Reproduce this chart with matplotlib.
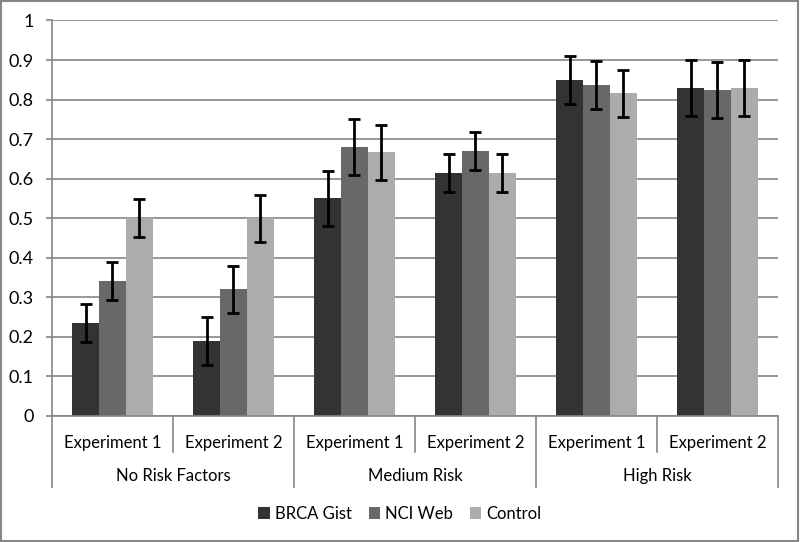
import numpy as np
import matplotlib.pyplot as plt
from matplotlib.patches import Rectangle
from matplotlib.lines import Line2D

plt.rcParams['font.family'] = ['Lato', 'DejaVu Sans']

groups = ["No Risk Factors", "Medium Risk", "High Risk"]
experiments = ["Experiment 1", "Experiment 2"]
series = ["BRCA Gist", "NCI Web", "Control"]
colors = ["#333333", "#686868", "#acacac"]

# one value per (group, experiment) in order
brca = [0.234, 0.190, 0.550, 0.614, 0.849, 0.829]
nci = [0.342, 0.320, 0.680, 0.669, 0.837, 0.824]
control = [0.500, 0.500, 0.667, 0.614, 0.816, 0.829]
brca_err = [0.048, 0.060, 0.070, 0.048, 0.061, 0.070]
nci_err = [0.048, 0.060, 0.071, 0.048, 0.060, 0.070]
control_err = [0.048, 0.060, 0.070, 0.048, 0.060, 0.070]

values = [brca, nci, control]
errors = [brca_err, nci_err, control_err]

fig = plt.figure(figsize=(8, 5.42), dpi=100)
ax = fig.add_axes([0.065, 0.2325, 0.9075, 0.7297])

x = np.arange(len(brca))
w = 0.223
for i, (vals, errs) in enumerate(zip(values, errors)):
    ax.bar(x + (i - 1) * w, vals, w, color=colors[i], label=series[i], zorder=2,
           yerr=errs, error_kw=dict(ecolor="black", elinewidth=2.0, capsize=4.5,
                                    capthick=2.0, zorder=3))

ax.set_xlim(-0.5, len(brca) - 0.5)
ax.set_ylim(0, 1)
ax.set_yticks(np.arange(0, 1.01, 0.1))
ax.set_yticklabels(["0"] + ["%.1f" % v for v in np.arange(0.1, 0.95, 0.1)] + ["1"])
ax.yaxis.grid(True, color="#868686", linewidth=1.2, zorder=0)
ax.tick_params(axis="y", length=4, width=1.2, color="#868686", labelsize=13, pad=9)
ax.tick_params(axis="x", length=0, labelsize=12, pad=14)
ax.set_xticks(x)
ax.set_xticklabels(experiments * len(groups))
for s in ["top", "right"]:
    ax.spines[s].set_visible(False)
ax.spines["left"].set_color("#868686")
ax.spines["bottom"].set_color("#868686")
ax.spines["left"].set_linewidth(1.2)
ax.spines["bottom"].set_linewidth(1.2)

# category separators below the axis
trans = ax.get_xaxis_transform()
for k in range(len(brca) + 1):
    xb = k - 0.5
    bottom = -0.18 if k % 2 == 0 else -0.091
    ax.add_line(Line2D([xb, xb], [0, bottom], transform=trans, color="#868686",
                       linewidth=1.2, clip_on=False))
for g, name in enumerate(groups):
    ax.text(2 * g + 0.5, -0.153, name, transform=trans, ha="center", va="center",
            fontsize=12)

fig.legend(loc="center", bbox_to_anchor=(0.5, 1 - 514 / 542), ncol=3, frameon=False,
           fontsize=12, handlelength=0.7, handleheight=0.7, handletextpad=0.3,
           columnspacing=1.0)

fig.patches.append(Rectangle((0.001, 0.001), 0.997, 0.997, transform=fig.transFigure,
                             fill=False, edgecolor="#868686", linewidth=1.5))

fig.savefig("out.png", dpi=100)
